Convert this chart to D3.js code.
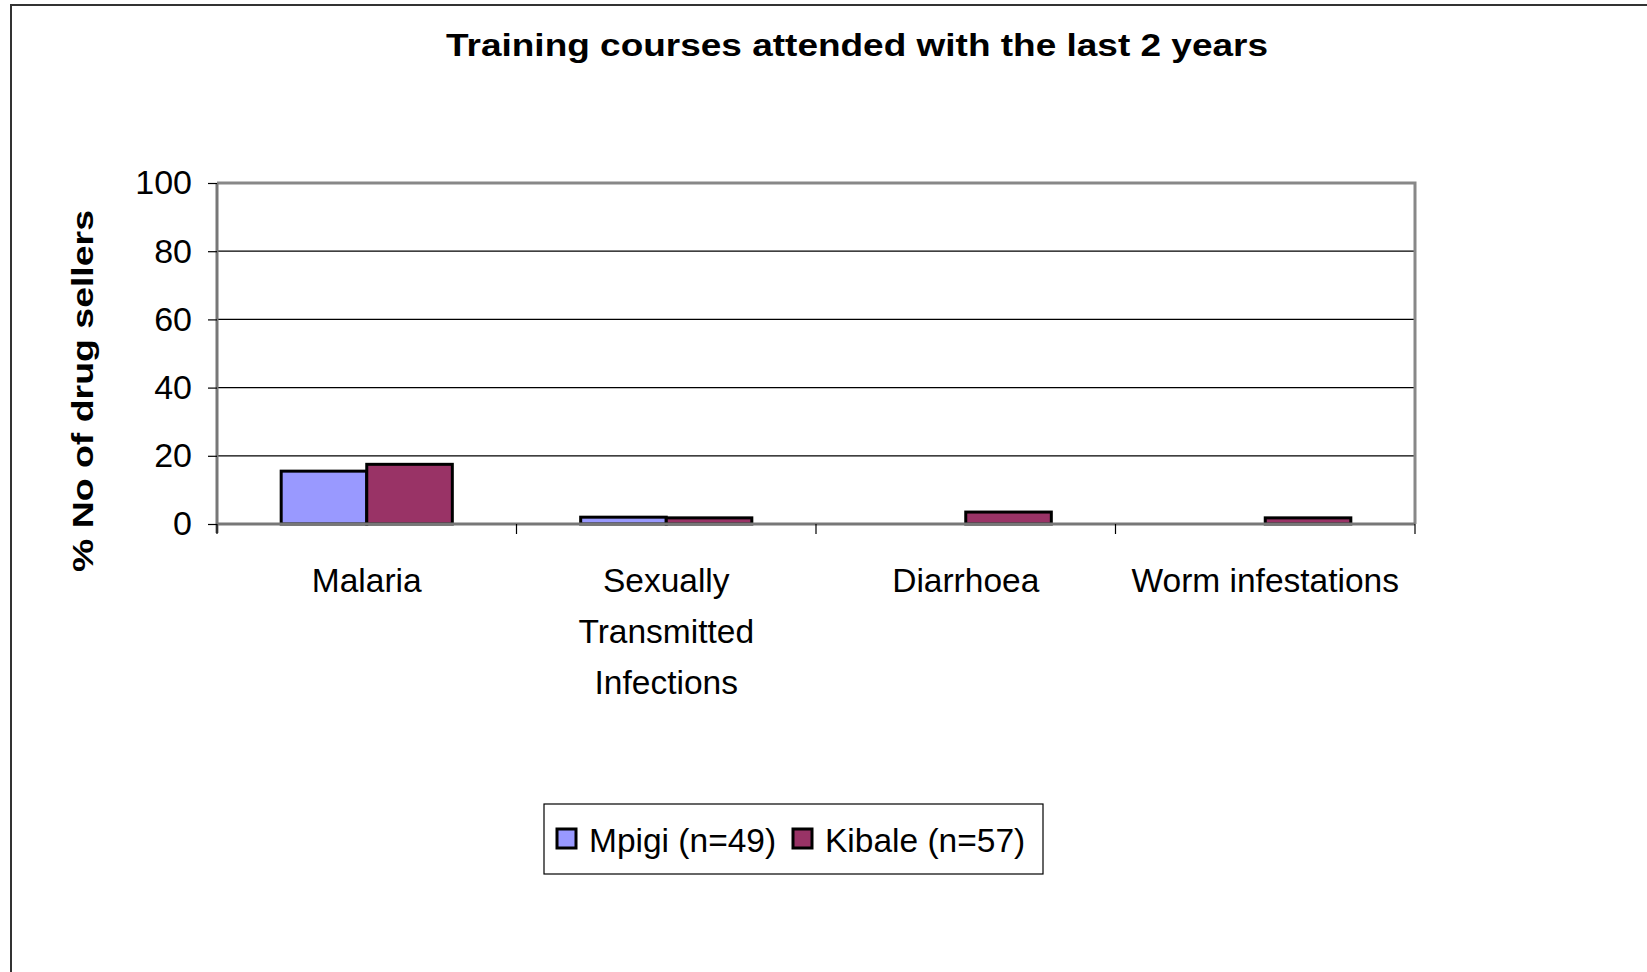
<!DOCTYPE html>
<html>
<head>
<meta charset="utf-8">
<script src="https://cdn.jsdelivr.net/npm/d3@7"></script>
<style>
  html, body { margin: 0; padding: 0; background: #fff; }
  svg { display: block; font-family: "Liberation Sans", Arial, sans-serif; }
</style>
</head>
<body>
<svg id="chart" width="1647" height="972"></svg>
<script>
const categories = ["Malaria", "Sexually Transmitted Infections", "Diarrhoea", "Worm infestations"];
const categoryLines = [["Malaria"], ["Sexually", "Transmitted", "Infections"], ["Diarrhoea"], ["Worm infestations"]];
const seriesNames = ["Mpigi (n=49)", "Kibale (n=57)"];
const mpigi = [15.5, 2, 0, 0];
const kibale = [17.5, 1.8, 3.5, 1.8];
const yTicks = [0, 20, 40, 60, 80, 100];
const colors = ["#9999FF", "#993366"];
const title = "Training courses attended with the last 2 years";
const yLabel = "% No of drug sellers";

(function () {
const svg = d3.select("#chart");

// outer chart frame
svg.append("rect").attr("x", 11).attr("y", 5).attr("width", 1700).attr("height", 1000)
  .attr("fill", "none").attr("stroke", "#333").attr("stroke-width", 2);

const pLeft = 217, pRight = 1415, pTop = 183, pBottom = 524;

const x = d3.scaleBand().domain(categories).range([pLeft, pRight]).padding(0);
const x1 = d3.scaleBand().domain(seriesNames).range([0, x.bandwidth()]).paddingInner(0).paddingOuter(0.75);
const y = d3.scaleLinear().domain([0, 100]).range([pBottom, pTop]);

// gridlines
svg.append("g").selectAll("line").data(yTicks.filter(t => t > 0 && t < 100)).join("line")
  .attr("x1", pLeft).attr("x2", pRight).attr("y1", d => y(d)).attr("y2", d => y(d))
  .attr("stroke", "#000").attr("stroke-width", 1.2);

// plot border (top, right) gray
svg.append("path")
  .attr("d", `M${pLeft},${y(100)}H${pRight}V${y(0)}`)
  .attr("fill", "none").attr("stroke", "#888").attr("stroke-width", 3);

// bars
const data = categories.map((c, i) => ({ c, vals: [mpigi[i], kibale[i]] }));
const groups = svg.append("g").selectAll("g").data(data).join("g")
  .attr("transform", d => `translate(${x(d.c)},0)`);
groups.selectAll("rect").data(d => d.vals.map((v, j) => ({ v, s: seriesNames[j], j })).filter(e => e.v > 0)).join("rect")
  .attr("x", e => x1(e.s))
  .attr("width", x1.bandwidth())
  .attr("y", e => y(e.v))
  .attr("height", e => y(0) - y(e.v))
  .attr("fill", e => colors[e.j])
  .attr("stroke", "#000").attr("stroke-width", 3);

// y axis
const yAxis = d3.axisLeft(y).tickValues(yTicks).tickSize(9).tickPadding(16);
const gy = svg.append("g").attr("transform", `translate(${pLeft},0)`).call(yAxis);
gy.select(".domain").attr("stroke", "#777").attr("stroke-width", 3).attr("d", `M0,${y(100)}V${y(0) + 9}`);
gy.selectAll(".tick line").attr("stroke", "#000").attr("stroke-width", 1.2);
gy.selectAll(".tick text").attr("font-size", 34).attr("fill", "#000")
  .attr("font-family", "Liberation Sans, Arial, sans-serif");

// x axis
const xAxis = d3.axisBottom(x).tickSize(0).tickFormat("");
const gx = svg.append("g").attr("transform", `translate(0,${pBottom})`).call(xAxis);
gx.select(".domain").attr("stroke", "#777").attr("stroke-width", 3).attr("d", `M${pLeft},0H${pRight}`);
const boundaries = categories.map(c => x(c)).concat([pRight]);
gx.selectAll(".bnd").data(boundaries).join("line").attr("class", "bnd")
  .attr("x1", d => d).attr("x2", d => d).attr("y1", 0).attr("y2", 10)
  .attr("stroke", "#000").attr("stroke-width", 1.2);

// category labels
categories.forEach((c, i) => {
  const t = svg.append("text").attr("x", x(c) + x.bandwidth() / 2).attr("y", 592)
    .attr("text-anchor", "middle").attr("font-size", 33.5).attr("fill", "#000");
  categoryLines[i].forEach((ln, k) => {
    t.append("tspan").attr("x", x(c) + x.bandwidth() / 2).attr("dy", k === 0 ? 0 : 51).text(ln);
  });
});

// title
svg.append("text").attr("x", 857).attr("y", 56).attr("text-anchor", "middle")
  .attr("font-size", 31).attr("font-weight", "bold").attr("fill", "#000")
  .attr("textLength", 822).attr("lengthAdjust", "spacingAndGlyphs").text(title);

// y label
svg.append("text").attr("transform", `translate(93,391) rotate(-90)`).attr("text-anchor", "middle")
  .attr("font-size", 30).attr("font-weight", "bold").attr("fill", "#000")
  .attr("textLength", 362).attr("lengthAdjust", "spacingAndGlyphs").text(yLabel);

// legend
const lg = svg.append("g");
lg.append("rect").attr("x", 544).attr("y", 804).attr("width", 499).attr("height", 70)
  .attr("fill", "#fff").attr("stroke", "#000").attr("stroke-width", 1.2);
const legX = [557, 793];
seriesNames.forEach((s, j) => {
  lg.append("rect").attr("x", legX[j]).attr("y", 829).attr("width", 19).attr("height", 19)
    .attr("fill", colors[j]).attr("stroke", "#000").attr("stroke-width", 3);
  lg.append("text").attr("x", legX[j] + 32).attr("y", 852).attr("font-size", 33.5).attr("fill", "#000").text(s);
});
})();
</script>
</body>
</html>
